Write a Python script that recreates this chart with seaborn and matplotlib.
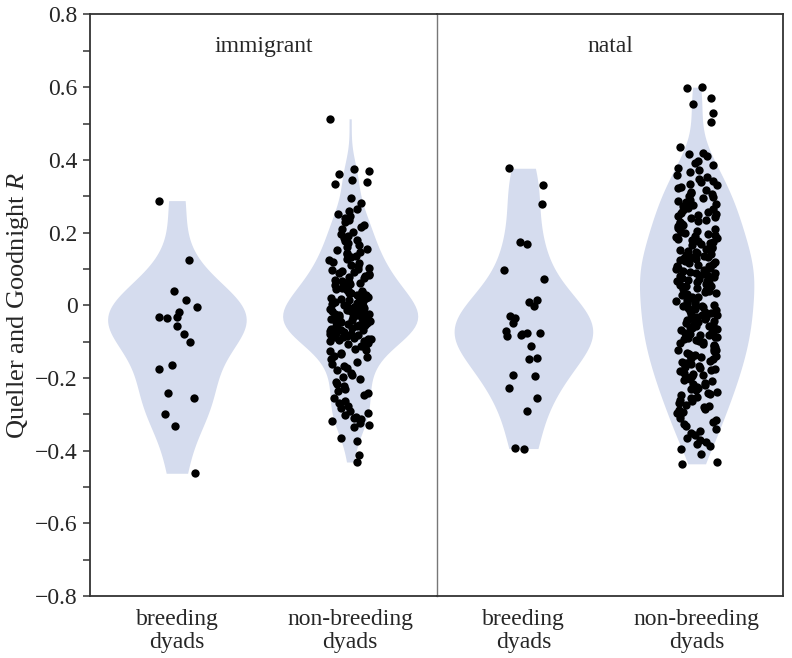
import numpy as np
import pandas as pd
import matplotlib.pyplot as plt
import seaborn as sns

# Queller & Goodnight relatedness
imm_breeding = [0.288, 0.125, 0.040, 0.015, -0.004, -0.018, -0.032, -0.033, -0.034,
                -0.056, -0.078, -0.100, -0.165, -0.175, -0.240, -0.254, -0.300,
                -0.333, -0.462]

imm_nonbreeding = [
    0.513,
    0.375, 0.370, 0.362, 0.346, 0.340, 0.333,
    0.296, 0.281, 0.266, 0.259, 0.252,
    0.247, 0.241, 0.236, 0.229, 0.222, 0.216, 0.209, 0.203,
    0.197, 0.192, 0.186, 0.181, 0.176, 0.171, 0.166, 0.161, 0.156, 0.152,
    0.148, 0.144, 0.140, 0.136, 0.132, 0.128, 0.124, 0.120, 0.116, 0.112, 0.108, 0.104, 0.101,
    0.098, 0.095, 0.092, 0.089, 0.086, 0.083, 0.080, 0.077, 0.074, 0.071, 0.068, 0.065, 0.062,
    0.058, 0.055, 0.052,
    0.049, 0.047, 0.045, 0.043, 0.041, 0.039, 0.037, 0.035, 0.033, 0.031, 0.029, 0.027, 0.025,
    0.023, 0.021, 0.019, 0.017, 0.015, 0.013, 0.011, 0.009, 0.006, 0.004, 0.002,
    -0.001, -0.003, -0.004, -0.006, -0.008, -0.009, -0.011, -0.013, -0.014, -0.016, -0.018,
    -0.019, -0.021, -0.023, -0.024, -0.026, -0.028, -0.029, -0.031, -0.033, -0.034, -0.036,
    -0.038, -0.039, -0.041, -0.043, -0.044, -0.046, -0.047, -0.048, -0.049, -0.049,
    -0.051, -0.053, -0.055, -0.056, -0.058, -0.060, -0.062, -0.063, -0.065, -0.067, -0.068,
    -0.070, -0.072, -0.073, -0.075, -0.077, -0.079, -0.080, -0.082, -0.084, -0.086, -0.088,
    -0.090, -0.092, -0.094, -0.096, -0.097, -0.099,
    -0.103, -0.107, -0.111, -0.115, -0.119, -0.123, -0.127, -0.131, -0.135, -0.139, -0.143,
    -0.147,
    -0.155, -0.161, -0.167, -0.173, -0.179, -0.185, -0.191, -0.197,
    -0.204, -0.210, -0.216, -0.222, -0.229, -0.235, -0.241, -0.247,
    -0.255, -0.262, -0.269, -0.276, -0.283, -0.290, -0.297,
    -0.302, -0.306, -0.310, -0.314, -0.318, -0.323, -0.329, -0.336,
    -0.366, -0.372,
    -0.412, -0.431,
]

nat_breeding = [0.377, 0.330, 0.280, 0.175, 0.170, 0.097, 0.072, 0.015, 0.010, -0.002,
                -0.030, -0.036, -0.050, -0.075, -0.070, -0.076, -0.080, -0.082, -0.085,
                -0.113, -0.145, -0.147, -0.193, -0.195, -0.228, -0.256, -0.290,
                -0.392, -0.394]

nat_nonbreeding = [
    0.600, 0.598, 0.570, 0.553, 0.530, 0.505,
    0.435, 0.420, 0.415, 0.410,
    0.398, 0.392, 0.385, 0.379, 0.372, 0.366, 0.359, 0.353,
    0.347, 0.343, 0.339, 0.335, 0.331, 0.326, 0.322, 0.317, 0.313, 0.309, 0.305, 0.301,
    0.298, 0.294, 0.291, 0.287, 0.284, 0.280, 0.277, 0.273, 0.269, 0.266, 0.262, 0.258, 0.255, 0.251,
    0.248, 0.245, 0.242, 0.239, 0.236, 0.233, 0.230, 0.227, 0.224, 0.221, 0.218, 0.214, 0.211,
    0.208, 0.205, 0.202,
    0.199, 0.196, 0.193, 0.191, 0.188, 0.185, 0.182, 0.179, 0.177, 0.174, 0.171, 0.168, 0.165,
    0.162, 0.160, 0.157, 0.154, 0.151,
    0.149, 0.147, 0.144, 0.142, 0.139, 0.137, 0.134, 0.132, 0.129, 0.127, 0.124, 0.122, 0.119,
    0.117, 0.114, 0.112, 0.109, 0.107, 0.104, 0.102,
    0.099, 0.097, 0.095, 0.093, 0.090, 0.088, 0.086, 0.084, 0.081, 0.079, 0.077, 0.075, 0.072,
    0.070, 0.068, 0.066, 0.063, 0.061, 0.059, 0.057, 0.054, 0.052,
    0.049, 0.047, 0.044, 0.042, 0.039, 0.037, 0.034, 0.032, 0.029, 0.027, 0.024, 0.022, 0.019,
    0.017, 0.014, 0.012, 0.009, 0.007, 0.004, 0.002,
    -0.001, -0.003, -0.006, -0.008, -0.011, -0.013, -0.016, -0.018, -0.021, -0.023, -0.026,
    -0.028, -0.031, -0.033, -0.036, -0.038, -0.041, -0.043, -0.046, -0.048,
    -0.051, -0.053, -0.056, -0.058, -0.061, -0.063, -0.066, -0.068, -0.071, -0.073, -0.076,
    -0.078, -0.081, -0.083, -0.086, -0.088, -0.091, -0.093, -0.096, -0.098,
    -0.102, -0.104, -0.107, -0.110, -0.113, -0.116, -0.119, -0.122, -0.124, -0.127, -0.130,
    -0.133, -0.136, -0.139, -0.141, -0.144, -0.146, -0.149,
    -0.152, -0.155, -0.158, -0.161, -0.164, -0.167, -0.170, -0.173, -0.176, -0.179, -0.182,
    -0.185, -0.188, -0.191, -0.194, -0.197,
    -0.202, -0.206, -0.209, -0.213, -0.216, -0.220, -0.224, -0.227, -0.231, -0.234, -0.238,
    -0.241, -0.245, -0.248,
    -0.252, -0.256, -0.260, -0.264, -0.268, -0.273, -0.277, -0.281, -0.285, -0.289, -0.293,
    -0.297,
    -0.303, -0.309, -0.315, -0.321, -0.327, -0.333, -0.339, -0.345,
    -0.352, -0.358, -0.364, -0.370, -0.376, -0.382, -0.388, -0.394,
    -0.410, -0.430, -0.436,
]

origins = ["immigrant", "natal"]
dyad_order = ["breeding dyads", "non-breeding dyads"]
dyad_labels = ["breeding\ndyads", "non-breeding\ndyads"]
# violin widths as they appear in the reference (breeding, non-breeding)
violin_widths = {"immigrant": [0.8, 0.78], "natal": [0.8, 0.66]}
yticks = [-0.8, -0.6, -0.4, -0.2, 0, 0.2, 0.4, 0.6, 0.8]
ytick_labels = ["\u22120.8", "\u22120.6", "\u22120.4", "\u22120.2", "0", "0.2", "0.4", "0.6", "0.8"]

groups = {
    ("immigrant", "breeding dyads"): imm_breeding,
    ("immigrant", "non-breeding dyads"): imm_nonbreeding,
    ("natal", "breeding dyads"): nat_breeding,
    ("natal", "non-breeding dyads"): nat_nonbreeding,
}
rows = []
for (origin, dyad), vals in groups.items():
    for v in vals:
        rows.append({"origin": origin, "dyad": dyad, "R": v})
df = pd.DataFrame(rows)

sns.set_style("ticks")
plt.rcParams["font.family"] = ["Liberation Serif", "DejaVu Serif"]
plt.rcParams["mathtext.fontset"] = "custom"
plt.rcParams["mathtext.it"] = "Liberation Serif:italic"
plt.rcParams["mathtext.rm"] = "Liberation Serif"

np.random.seed(7)

fig, axes = plt.subplots(1, 2, figsize=(7.92, 6.58), dpi=100, sharey=True)
fig.subplots_adjust(left=0.114, right=0.989, top=0.978, bottom=0.094, wspace=0)

violin_color = "#d5dcee"
fs = 17

for ax, origin in zip(axes, origins):
    sub = df[df["origin"] == origin]
    for dyad, w in zip(dyad_order, violin_widths[origin]):
        one = sub[sub["dyad"] == dyad]
        sns.violinplot(data=one, x="dyad", y="R", order=dyad_order, color=violin_color,
                       saturation=1, inner=None, cut=0, linewidth=0,
                       density_norm="width", bw_adjust=0.85, width=w, ax=ax)
    sns.stripplot(data=sub, x="dyad", y="R", order=dyad_order, color="black",
                  size=6, jitter=0.12, linewidth=0, ax=ax)
    ax.set_xlim(-0.5, 1.5)
    ax.set_ylim(-0.8, 0.8)
    ax.set_xlabel("")
    ax.set_ylabel("")
    ax.set_xticks([0, 1])
    ax.set_xticklabels(dyad_labels, fontsize=fs, linespacing=1.15)
    ax.tick_params(axis="x", length=0, pad=9)
    ax.text(0.5, 0.945, origin, transform=ax.transAxes, ha="center", va="center",
            fontsize=fs)
    for side in ["top", "bottom", "left", "right"]:
        ax.spines[side].set_visible(True)
        ax.spines[side].set_color("#333333")
        ax.spines[side].set_linewidth(1.3)

# divider between the two panels (left spine of the right panel)
axes[0].spines["right"].set_visible(False)
axes[1].spines["left"].set_color("#777777")
axes[1].spines["left"].set_linewidth(1.0)

ax = axes[0]
ax.set_yticks(yticks)
ax.set_yticklabels(ytick_labels, fontsize=fs)
ax.set_yticks([-0.7, -0.5, -0.3, -0.1, 0.1, 0.3, 0.5, 0.7], minor=True)
ax.tick_params(axis="y", which="both", direction="out", length=5, width=1.1,
               color="#333333", pad=4)
ax.set_ylabel("Queller and Goodnight $R$", fontsize=19, labelpad=3)
axes[1].tick_params(axis="y", which="both", left=False, labelleft=False)

fig.savefig("out.png", dpi=100)
